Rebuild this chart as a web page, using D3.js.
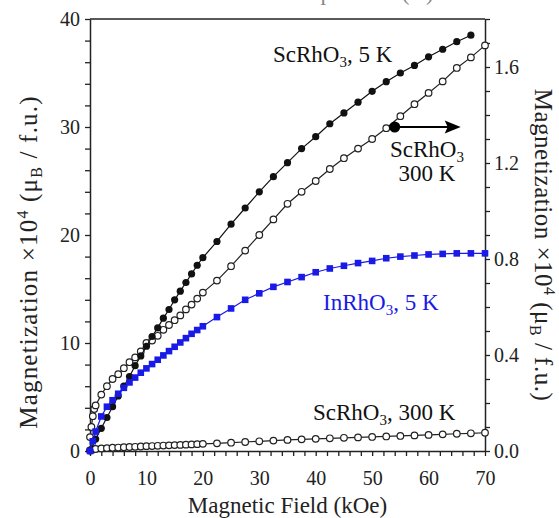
<!DOCTYPE html>
<html>
<head>
<meta charset="utf-8">
<script src="https://cdn.jsdelivr.net/npm/d3@7"></script>
<style>
  body { margin: 0; background: #fff; }
  svg { display: block; font-family: "Liberation Serif", "Times New Roman", serif; }
</style>
</head>
<body>
<svg id="chart" width="559" height="518"></svg>
<script>
/* Data (magnetization x10^4 muB / f.u., field in kOe) */
var fieldSc5 = [0, 1, 2, 3, 4, 5, 6, 7, 8, 9, 10, 11, 12, 13, 14, 15, 16, 17, 18, 19, 20,
                22.5, 25, 27.5, 30, 32.5, 35, 37.5, 40, 42.5, 45, 47.5, 50, 52.5, 55, 57.5, 60, 62.5, 65, 67.5];
var magSc5 = [0, 1.1, 2.1, 3.1, 4.1, 5.1, 6.0, 6.9, 7.9, 8.8, 9.7, 10.6, 11.4, 12.3, 13.1, 14.0, 14.8, 15.6, 16.4, 17.2, 17.9,
              19.4, 21.0, 22.5, 24.0, 25.4, 26.7, 28.0, 29.1, 30.3, 31.3, 32.3, 33.3, 34.2, 35.0, 35.7, 36.5, 37.2, 37.9, 38.5];

var fieldSc300 = [0, 0.25, 0.5, 0.75, 1, 2, 3, 4, 5, 6, 7, 8, 9, 10, 11, 12, 13, 14, 15, 16, 17, 18, 19, 20,
                  22.5, 25, 27.5, 30, 32.5, 35, 37.5, 40, 42.5, 45, 47.5, 50, 52.5, 55, 57.5, 60, 62.5, 65, 67.5, 70];
var magSc300 = [0.058, 0.10, 0.145, 0.175, 0.19, 0.235, 0.27, 0.30, 0.32, 0.345, 0.37, 0.39, 0.415, 0.45, 0.46, 0.48,
                0.505, 0.525, 0.545, 0.565, 0.59, 0.61, 0.635, 0.66, 0.71, 0.77, 0.835, 0.90, 0.965, 1.03, 1.08, 1.125,
                1.175, 1.22, 1.26, 1.30, 1.345, 1.395, 1.445, 1.492, 1.54, 1.596, 1.64, 1.69];

var fieldIn5 = [0, 0.5, 1, 2, 3, 4, 5, 6, 7, 8, 9, 10, 11, 12, 13, 14, 15, 16, 17, 18, 19, 20,
                22.5, 25, 27.5, 30, 32.5, 35, 37.5, 40, 42.5, 45, 47.5, 50, 52.5, 55, 57.5, 60, 62.5, 65, 67.5, 70];
var magIn5 = [0, 0.9, 1.8, 3.2, 4.1, 4.7, 5.3, 5.85, 6.35, 6.8, 7.25, 7.65, 8.05, 8.45, 8.85, 9.25, 9.65, 10.05, 10.45, 10.85, 11.2, 11.55,
              12.4, 13.2, 14.0, 14.6, 15.2, 15.65, 16.1, 16.55, 16.9, 17.15, 17.4, 17.6, 17.85, 18.0, 18.1, 18.2, 18.25, 18.3, 18.3, 18.3];

var xTickLabels = [0, 10, 20, 30, 40, 50, 60, 70];
var leftTickLabels = [0, 10, 20, 30, 40];
var rightTickLabels = [0.0, 0.4, 0.8, 1.2, 1.6];

// where the "-> right axis" marker sits on the 300 K curve
var arrowField = 54;
var arrowMag = 1.35;

/* SVG properties */
var svg = d3.select("#chart");
var plotL = 90, plotR = 485, plotT = 19, plotB = 451;

var x = d3.scaleLinear().domain([0, 70]).range([plotL, plotR]);
var yL = d3.scaleLinear().domain([0, 40]).range([plotB, plotT]);
var yR = d3.scaleLinear().domain([0, 1.8]).range([plotB, plotT]);

/* clipped title of the panel above */
svg.append("text").attr("x", 280).attr("y", 0).attr("font-size", 23).attr("fill", "#888")
   .text("Temperature (K)");

/* frame */
svg.append("line").attr("x1", plotL).attr("x2", plotR).attr("y1", plotT).attr("y2", plotT)
   .attr("stroke", "#222").attr("stroke-width", 1.5);

/* axes */
function styleAxis(g) {
  g.select(".domain").attr("stroke", "#222").attr("stroke-width", 1.5);
  g.selectAll(".tick line").attr("stroke", "#222").attr("stroke-width", 1.3);
  g.selectAll(".tick text").attr("font-size", 20).attr("fill", "#222")
   .attr("font-family", "Liberation Serif, serif");
}

var xAxis = d3.axisBottom(x)
  .tickValues(d3.range(0, 71, 2))
  .tickSize(5).tickSizeOuter(0)
  .tickFormat(function(d) { return xTickLabels.indexOf(d) >= 0 ? d : ""; });
svg.append("g").attr("transform", "translate(0," + plotB + ")").call(xAxis).call(styleAxis)
   .selectAll(".tick text").attr("dy", "1.3em");

var yAxisL = d3.axisLeft(yL)
  .tickValues(d3.range(0, 41, 2))
  .tickSize(5).tickSizeOuter(0)
  .tickFormat(function(d) { return leftTickLabels.indexOf(d) >= 0 ? d : ""; });
svg.append("g").attr("transform", "translate(" + plotL + ",0)").call(yAxisL).call(styleAxis)
   .selectAll(".tick text").attr("x", -10);

var rightMinor = d3.range(0, 19).map(function(i) { return i / 10; });
var yAxisR = d3.axisRight(yR)
  .tickValues(rightMinor)
  .tickSize(5).tickSizeOuter(0)
  .tickFormat(function(d) {
    var hit = rightTickLabels.some(function(v) { return Math.abs(v - d) < 1e-6; });
    return hit ? d3.format(".1f")(d) : "";
  });
svg.append("g").attr("transform", "translate(" + plotR + ",0)").call(yAxisR).call(styleAxis)
   .selectAll(".tick text").attr("x", 9);

/* series */
function pts(xs, ys) { return xs.map(function(d, i) { return [d, ys[i]]; }); }

function drawLine(data, yScale, color) {
  svg.append("path").datum(data)
     .attr("fill", "none").attr("stroke", color).attr("stroke-width", 1.2)
     .attr("d", d3.line().x(function(d) { return x(d[0]); }).y(function(d) { return yScale(d[1]); }));
}

var sc300 = pts(fieldSc300, magSc300);
var sc5 = pts(fieldSc5, magSc5);
var in5 = pts(fieldIn5, magIn5);

// ScRhO3 300 K on left scale
drawLine(sc300, yL, "#222");
svg.append("g").selectAll("circle").data(sc300).enter().append("circle")
   .attr("cx", function(d) { return x(d[0]); }).attr("cy", function(d) { return yL(d[1]); })
   .attr("r", 3.3).attr("fill", "#fff").attr("stroke", "#222").attr("stroke-width", 1.2);

// ScRhO3 300 K on right scale
drawLine(sc300, yR, "#222");
svg.append("g").selectAll("circle").data(sc300).enter().append("circle")
   .attr("cx", function(d) { return x(d[0]); }).attr("cy", function(d) { return yR(d[1]); })
   .attr("r", 3.3).attr("fill", "#fff").attr("stroke", "#222").attr("stroke-width", 1.2);

// ScRhO3 5 K
drawLine(sc5, yL, "#111");
svg.append("g").selectAll("circle").data(sc5).enter().append("circle")
   .attr("cx", function(d) { return x(d[0]); }).attr("cy", function(d) { return yL(d[1]); })
   .attr("r", 3.6).attr("fill", "#111");

// InRhO3 5 K
drawLine(in5, yL, "#1a1ae6");
svg.append("g").selectAll("rect").data(in5).enter().append("rect")
   .attr("x", function(d) { return x(d[0]) - 3.3; }).attr("y", function(d) { return yL(d[1]) - 3.3; })
   .attr("width", 6.6).attr("height", 6.6).attr("fill", "#1a1ae6");

/* arrow marking the right-axis curve */
var ax = x(arrowField), ay = yR(arrowMag);
svg.append("circle").attr("cx", ax).attr("cy", ay).attr("r", 5.5).attr("fill", "#000");
svg.append("line").attr("x1", ax).attr("x2", ax + 54)
   .attr("y1", ay).attr("y2", ay).attr("stroke", "#000").attr("stroke-width", 2.2);
svg.append("path")
   .attr("d", "M" + (ax + 66) + "," + ay + " l-16,-6.5 l3,6.5 l-3,6.5 z")
   .attr("fill", "#000");

/* annotations */
function chemLabel(xp, yp, base, sub, tail, color, anchor) {
  var t = svg.append("text").attr("x", xp).attr("y", yp).attr("font-size", 23)
             .attr("fill", color).attr("text-anchor", anchor || "start");
  t.append("tspan").text(base);
  t.append("tspan").attr("font-size", 15).attr("dy", 5).text(sub);
  t.append("tspan").attr("dy", -5).text(tail);
  return t;
}
chemLabel(273, 62, "ScRhO", "3", ", 5 K", "#111");
chemLabel(427, 157, "ScRhO", "3", "", "#111", "middle");
svg.append("text").attr("x", 427).attr("y", 181).attr("font-size", 23).attr("fill", "#111")
   .attr("text-anchor", "middle").text("300 K");
chemLabel(323, 310, "InRhO", "3", ", 5 K", "#1a1ae6");
chemLabel(313, 420, "ScRhO", "3", ", 300 K", "#111");

/* axis titles */
svg.append("text").attr("x", (plotL + plotR) / 2).attr("y", 513).attr("font-size", 23)
   .attr("fill", "#222").attr("text-anchor", "middle").text("Magnetic Field (kOe)");

function magTitle(g) {
  g.append("tspan").text("Magnetization \u00d710");
  g.append("tspan").attr("font-size", 16).attr("dy", -9).text("4");
  g.append("tspan").attr("dy", 9).text(" (\u03bc");
  g.append("tspan").attr("font-size", 16).attr("dy", 5).text("B");
  g.append("tspan").attr("dy", -5).text(" / f.u.)");
}
var lt = svg.append("text").attr("transform", "translate(37,262) rotate(-90)")
   .attr("font-size", 25).attr("letter-spacing", 1.2).attr("fill", "#222").attr("text-anchor", "middle");
magTitle(lt);
var rt = svg.append("text").attr("transform", "translate(535,245) rotate(90)")
   .attr("font-size", 25).attr("letter-spacing", 0.5).attr("fill", "#222").attr("text-anchor", "middle");
magTitle(rt);
</script>
</body>
</html>
